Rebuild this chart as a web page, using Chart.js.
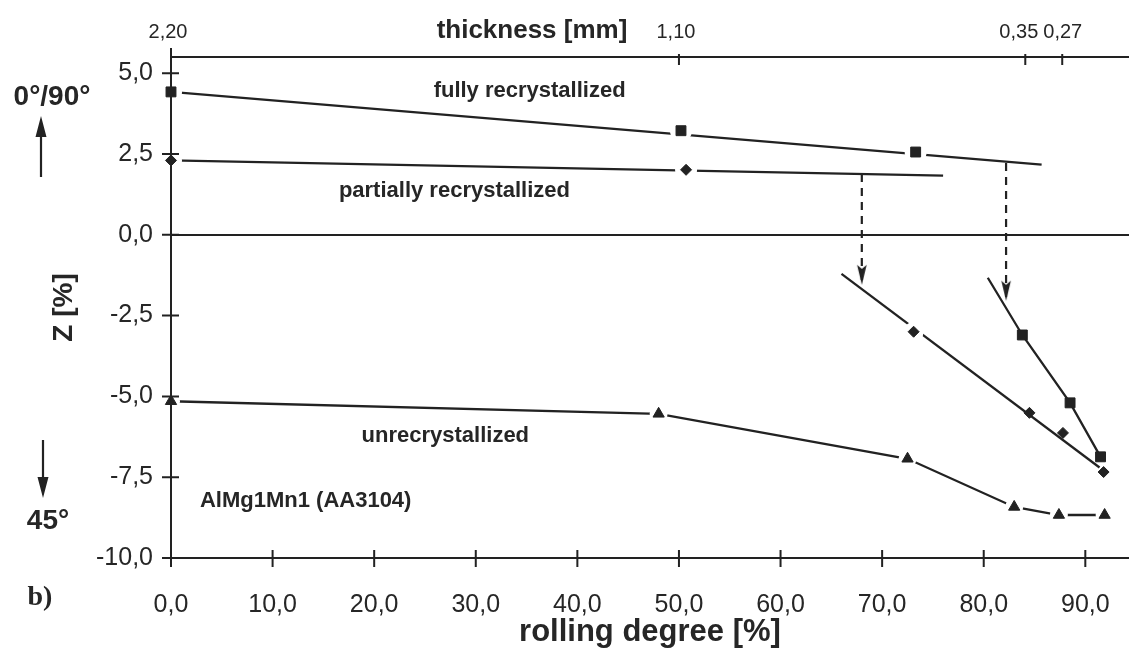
<!DOCTYPE html>
<html>
<head>
<meta charset="utf-8">
<title>AlMg1Mn1 (AA3104) – Z vs rolling degree</title>
<script src="https://cdn.jsdelivr.net/npm/chart.js@4/dist/chart.umd.min.js"></script>
<style>
  html, body { margin: 0; padding: 0; background: #fff; }
  #wrap { width: 1129px; height: 648px; position: relative; }
  canvas { display: block; }
</style>
</head>
<body>
<div id="wrap"><canvas id="c" width="1129" height="648"></canvas></div>
<script>
// ---- axis ticks ----
const rollingTicks = [0, 10, 20, 30, 40, 50, 60, 70, 80, 90];   // rolling degree [%]
const zTicks = [-10, -7.5, -5, -2.5, 0, 2.5, 5];                // Z [%]
const thicknessTicks = [2.20, 1.10, 0.35, 0.27];                // sheet thickness [mm], start gauge first

// ---- fully recrystallized (squares) ----
const fullyX = [0, 50.2, 73.3];
const fullyZ = [4.42, 3.22, 2.56];
const fullyFitX = [0, 85.7];
const fullyFitZ = [4.42, 2.17];

// ---- partially recrystallized (diamonds) ----
const partialX = [0, 50.7];
const partialZ = [2.30, 2.01];
const partialFitX = [0, 76.0];
const partialFitZ = [2.30, 1.83];

// ---- partially recrystallized, rolled further (diamonds) ----
const partialRolledX = [73.1, 84.5, 87.8, 91.8];
const partialRolledZ = [-3.00, -5.51, -6.13, -7.34];
const partialRolledFitX = [66.0, 91.4];
const partialRolledFitZ = [-1.21, -7.20];

// ---- fully recrystallized, rolled further (squares) ----
const fullyRolledX = [83.8, 88.5, 91.5];
const fullyRolledZ = [-3.10, -5.20, -6.87];
const fullyRolledStartX = 80.4;
const fullyRolledStartZ = -1.33;

// ---- unrecrystallized (triangles) ----
const unrecX = [0, 48.0, 72.5, 83.0, 87.4, 91.9];
const unrecZ = [-5.15, -5.54, -6.93, -8.42, -8.67, -8.67];

// ---- transitions (dashed arrows): rolling degree, Z from -> to ----
const arrowPartialX = 68.0;
const arrowPartialZ = [1.88, -1.55];
const arrowFullyX = 82.2;
const arrowFullyZ = [2.22, -2.04];

// ---- look ----
const INK = '#222';
const TXT = '#262626';
const SANS = '"Liberation Sans", Arial, Helvetica, sans-serif';
const SERIF = '"Liberation Serif", "Times New Roman", serif';
const X_MAX = 94.3, Z_MIN = -10, Z_MAX = 5.5;

const fmt = (v, d) => v.toFixed(d).replace('.', ',');
const pts = (xs, ys) => xs.map((x, i) => ({ x: x, y: ys[i] }));
const rollingFromThickness = t => (1 - t / thicknessTicks[0]) * 100;
const thicknessFromRolling = r => thicknessTicks[0] * (1 - r / 100);

// narrow filled arrow head, tip at the canvas centre
function arrowHead() {
  const c = document.createElement('canvas');
  c.width = 14; c.height = 44;
  const g = c.getContext('2d');
  g.fillStyle = INK;
  g.beginPath();
  g.moveTo(7, 22);
  g.lineTo(2.2, 2);
  g.lineTo(7, 6);
  g.lineTo(11.8, 2);
  g.closePath();
  g.fill();
  return c;
}
const HEAD = arrowHead();

function markers(xs, ys, style, radius) {
  return { data: pts(xs, ys), showLine: false, pointStyle: style, pointRadius: radius,
           pointBackgroundColor: INK, pointBorderColor: INK, pointBorderWidth: 1,
           clip: false, order: 0 };
}
// white disc under a marker so the line stops short of it
function halo(xs, ys, radius) {
  return { data: pts(xs, ys), showLine: false, pointStyle: 'circle', pointRadius: radius,
           pointBackgroundColor: '#fff', pointBorderColor: '#fff', pointBorderWidth: 0,
           clip: false, order: 1 };
}
function line(xs, ys, extra) {
  return Object.assign({ data: pts(xs, ys), showLine: true, borderColor: INK, borderWidth: 2.3,
           pointRadius: 0, tension: 0, fill: false, clip: false, order: 2 }, extra || {});
}
function arrow(x, zs) {
  return line([x, x], zs, { borderDash: [8, 6], borderWidth: 2.2, pointStyle: HEAD,
           pointRadius: c => (c.dataIndex === 1 ? 4 : 0), order: 2 });
}

const datasets = [
  // trend lines
  line(fullyFitX, fullyFitZ),
  line(partialFitX, partialFitZ),
  line(partialRolledFitX, partialRolledFitZ),
  line([fullyRolledStartX].concat(fullyRolledX), [fullyRolledStartZ].concat(fullyRolledZ)),
  line(unrecX, unrecZ),
  arrow(arrowPartialX, arrowPartialZ),
  arrow(arrowFullyX, arrowFullyZ),
  // gaps around markers
  halo(fullyX, fullyZ, 11),
  halo(partialX, partialZ, 11),
  Object.assign(halo(partialRolledX, partialRolledZ, 0), { pointRadius: c => (c.dataIndex === 0 ? 10 : 0) }),
  halo(unrecX, unrecZ, 9),
  // markers
  markers(fullyX, fullyZ, 'rect', 7),
  markers(partialX, partialZ, 'rectRot', 5.5),
  markers(partialRolledX, partialRolledZ, 'rectRot', 5.5),
  markers(fullyRolledX, fullyRolledZ, 'rect', 7),
  markers(unrecX, unrecZ, 'triangle', 6.5)
];

// thickness labels on the top axis; neighbours that would touch are eased apart
function drawThicknessLabels(ctx, scale, yMid) {
  ctx.font = '20px ' + SANS;
  ctx.textAlign = 'center';
  ctx.textBaseline = 'middle';
  const items = scale.ticks.map(t => {
    const text = fmt(thicknessFromRolling(t.value), 2);
    return { text: text, cx: scale.getPixelForValue(t.value) - 3, w: ctx.measureText(text).width };
  });
  const gap = 5;
  for (let i = 1; i < items.length; i++) {
    const a = items[i - 1], b = items[i];
    const overlap = (a.cx + a.w / 2 + gap) - (b.cx - b.w / 2);
    if (overlap > 0) { a.cx -= overlap / 2; b.cx += overlap / 2; }
  }
  items.forEach(it => ctx.fillText(it.text, it.cx, yMid));
}

// tick marks, curve labels and margin annotations
const decor = {
  id: 'decor',
  afterDraw(chart) {
    const { ctx, chartArea: a, scales } = chart;
    const x = scales.x, x2 = scales.x2, y = scales.y;
    const X = v => x.getPixelForValue(v);
    const Y = v => y.getPixelForValue(v);
    ctx.save();
    ctx.strokeStyle = INK;
    ctx.lineWidth = 2;
    ctx.beginPath();
    y.ticks.forEach(t => { const p = Y(t.value); ctx.moveTo(a.left - 9, p); ctx.lineTo(a.left + 8, p); });
    x.ticks.forEach(t => { const p = X(t.value); ctx.moveTo(p, a.bottom - 8); ctx.lineTo(p, a.bottom + 9); });
    x2.ticks.forEach(t => { const p = x2.getPixelForValue(t.value); ctx.moveTo(p, a.top - 3); ctx.lineTo(p, a.top + 8); });
    ctx.moveTo(a.left, a.top - 9); ctx.lineTo(a.left, a.top);
    ctx.stroke();

    ctx.fillStyle = TXT;
    drawThicknessLabels(ctx, x2, a.top - 25);

    ctx.textBaseline = 'middle';
    ctx.textAlign = 'center';
    ctx.font = 'bold 22px ' + SANS;
    ctx.fillText('fully recrystallized', X(35.3), Y(4.46));
    ctx.fillText('partially recrystallized', X(27.9), Y(1.36));
    ctx.fillText('unrecrystallized', X(27.0), Y(-6.22));
    ctx.textAlign = 'left';
    ctx.fillText('AlMg1Mn1 (AA3104)', X(2.85), Y(-8.23));

    ctx.textAlign = 'center';
    ctx.font = 'bold 26px ' + SANS;
    ctx.fillText('thickness [mm]', 532, 31);

    ctx.font = 'bold 28px ' + SANS;
    ctx.fillText('0°/90°', 52, 97);
    ctx.fillText('45°', 48, 521);
    ctx.font = 'bold 28px ' + SERIF;
    ctx.fillText('b)', 40, 598);

    // direction arrows in the left margin
    ctx.lineWidth = 2.2;
    ctx.beginPath();
    ctx.moveTo(41, 177); ctx.lineTo(41, 134);
    ctx.moveTo(43, 440); ctx.lineTo(43, 480);
    ctx.stroke();
    ctx.fillStyle = INK;
    ctx.beginPath();
    ctx.moveTo(41, 116); ctx.lineTo(35.5, 137); ctx.lineTo(46.5, 137); ctx.closePath();
    ctx.moveTo(43, 498); ctx.lineTo(37.5, 477); ctx.lineTo(48.5, 477); ctx.closePath();
    ctx.fill();
    ctx.restore();
  }
};

new Chart(document.getElementById('c'), {
  type: 'scatter',
  data: { datasets: datasets },
  plugins: [decor],
  options: {
    responsive: false,
    animation: false,
    events: [],
    layout: { padding: 0, autoPadding: false },
    plugins: { legend: { display: false }, tooltip: { enabled: false } },
    scales: {
      x: {
        type: 'linear', position: 'bottom', min: 0, max: X_MAX,
        afterBuildTicks: s => { s.ticks = rollingTicks.map(v => ({ value: v })); },
        afterFit: s => { s.height = 90; },
        // tick marks themselves are drawn by the decor plugin; the hidden tick length only spaces the labels
        grid: { display: false, drawTicks: true, tickLength: 31 },
        border: { display: true, color: INK, width: 2 },
        ticks: { autoSkip: false, maxRotation: 0, padding: 1, color: TXT,
                 font: { family: SANS, size: 25 }, callback: v => fmt(v, 1) },
        title: { display: true, text: 'rolling degree [%]', color: TXT,
                 font: { family: SANS, size: 31, weight: 'bold', lineHeight: 1.0 },
                 padding: { top: 0, bottom: 0 } }
      },
      x2: {
        type: 'linear', position: 'top', min: 0, max: X_MAX,
        afterBuildTicks: s => { s.ticks = thicknessTicks.map(t => ({ value: rollingFromThickness(t) })); },
        afterFit: s => { s.height = 57; },
        grid: { display: false, drawTicks: false },
        border: { display: true, color: INK, width: 2 },
        ticks: { display: false }
      },
      y: {
        type: 'linear', position: 'left', min: Z_MIN, max: Z_MAX,
        afterBuildTicks: s => { s.ticks = zTicks.map(v => ({ value: v })); },
        afterFit: s => { s.width = 171; },
        grid: { display: true, drawTicks: false, lineWidth: 2,
                color: c => (c.tick && c.tick.value === 0 ? INK : 'rgba(0,0,0,0)') },
        border: { display: true, color: INK, width: 2, z: 1 },
        ticks: { autoSkip: false, padding: 18, color: TXT,
                 font: { family: SANS, size: 25 }, callback: v => fmt(v, 1) },
        title: { display: true, text: 'Z [%]', color: TXT,
                 font: { family: SANS, size: 28, weight: 'bold', lineHeight: 1.2 },
                 padding: { top: 47, bottom: 0 } }
      }
    }
  }
});
</script>
</body>
</html>
